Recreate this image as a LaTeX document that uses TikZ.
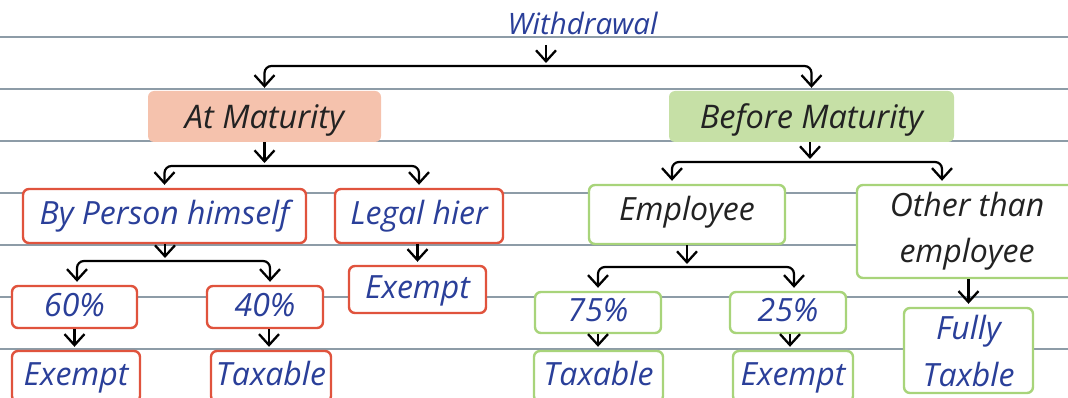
\documentclass[tikz,border=0pt]{standalone}
\usepackage{fontspec}
\setmainfont{Open Sans}
\usetikzlibrary{arrows.meta}

\definecolor{ruleline}{HTML}{8D9CA7}
\definecolor{redline}{HTML}{E0533D}
\definecolor{greenline}{HTML}{A8D47A}
\definecolor{salmon}{HTML}{F5C2AD}
\definecolor{leaf}{HTML}{C6E0A6}
\definecolor{ink}{HTML}{2A3F99}
\definecolor{dark}{HTML}{222222}

\begin{document}
\begin{tikzpicture}[x=1pt,y=-1pt,
  >={Straight Barb[length=11pt,width=20pt,line width=2.3pt]},
  hand/.style={font=\itshape\fontsize{32}{46}\selectfont},
  box/.style={hand, rounded corners=6pt, line width=2.4pt, fill=white,
    inner sep=0pt, align=center},
  oneline/.style={text height=24pt, text depth=6pt},
  redbox/.style={box, oneline, draw=redline, text=ink},
  greenbox/.style={box, oneline, draw=greenline, text=ink},
  headbox/.style={rounded corners=6pt, inner sep=0pt, text=dark,
    font=\itshape\fontsize{32.5}{36}\selectfont, text height=31pt, text depth=6pt},
  tip/.style={->, line width=2.2pt, shorten >=3pt},
  fork/.style={<->, line width=2.2pt, rounded corners=7pt,
    shorten <=3pt, shorten >=3pt},
]
\useasboundingbox (0,0) rectangle (1068,398);

% ruled paper
\foreach \y in {37,89,141,193,245,297,349}
  \draw[ruleline, line width=1.3pt] (0,\y) -- (1068,\y);

% title
\node[text=ink, inner sep=0pt, anchor=base, font=\itshape\fontsize{29.5}{36}\selectfont]
  (wd) at (582.5,35) {Withdrawal};

% first level
\node[headbox, fill=salmon, minimum width=233pt, minimum height=51pt] (am) at (264.5,116.5) {At Maturity};
\node[headbox, fill=leaf, minimum width=285pt, minimum height=51pt] (bm) at (811.5,116.5) {Before Maturity};

% second level
\node[redbox, minimum width=283pt, minimum height=54pt] (bp) at (164.5,216) {By Person himself};
\node[redbox, minimum width=168pt, minimum height=54pt] (lh) at (419,216) {Legal hier};
\node[greenbox, text=dark, minimum width=196pt, minimum height=59pt,
  text height=24pt, text depth=11pt] (em) at (687,214.5) {Employee};
\node[box, draw=greenline, text=dark, minimum width=220pt, minimum height=93pt] (ot) at (967,231.5) {Other than\\employee};

% third level
\node[redbox, minimum width=125pt, minimum height=42pt] (p60) at (74.5,307) {60\%};
\node[redbox, minimum width=116pt, minimum height=42pt] (p40) at (265,307) {40\%};
\node[redbox, minimum width=137pt, minimum height=47pt] (ex2) at (417.5,289.5) {Exempt};
\node[greenbox, minimum width=126pt, minimum height=41pt] (p75) at (598,312.5) {75\%};
\node[greenbox, minimum width=116pt, minimum height=41pt] (p25) at (788,312.5) {25\%};
\node[box, draw=greenline, text=ink, minimum width=129pt, minimum height=85pt,
  font=\itshape\fontsize{32}{47}\selectfont] (ft) at (968.5,350.5) {Fully\\Taxble};

% fourth level
\node[redbox, minimum width=128pt, minimum height=51pt] (ex1) at (76,376.5) {Exempt};
\node[redbox, minimum width=120pt, minimum height=51pt] (tx1) at (271,376.5) {Taxable};
\node[greenbox, minimum width=129pt, minimum height=51pt] (tx2) at (598.5,376.5) {Taxable};
\node[greenbox, minimum width=120pt, minimum height=51pt] (ex3) at (793,376.5) {Exempt};

% junctions of the forks
\coordinate (j0) at (546,66);
\coordinate (j1) at (264.5,166);
\coordinate (j2) at (810,162);
\coordinate (j3) at (165,261);
\coordinate (j4) at (687,267);

% connectors
\draw[tip, shorten <=10pt] (wd.base -| j0) -- (j0);
\draw[fork] (am.north) |- (j0) -| (bm.north);

\draw[tip] (am.south) -- (j1);
\draw[fork] (bp.north) |- (j1) -| (lh.north);

\draw[tip] (bm.south -| j2) -- (j2);
\draw[fork] ([xshift=-15pt]em.north) |- (j2) -| ([xshift=-25pt]ot.north);

\draw[tip] (bp.south -| j3) -- (j3);
\draw[fork] ([xshift=2.5pt]p60.north) |- (j3) -| ([xshift=5pt]p40.north);

\draw[tip] (em.south) -- (j4);
\draw[fork] (p75.north) |- (j4) -| ([xshift=6pt]p25.north);

\draw[tip] (lh.south -| ex2.north) -- (ex2.north);
\draw[tip] (p60.south) -- (p60.south |- ex1.north);
\draw[tip] ([xshift=4pt]p40.south) -- ([xshift=4pt]p40.south |- tx1.north);
\draw[tip] (p75.south) -- (p75.south |- tx2.north);
\draw[tip] ([xshift=2pt]p25.south) -- ([xshift=2pt]p25.south |- ex3.north);
\draw[tip] (ot.south -| ft.north) -- (ft.north);
\end{tikzpicture}
\end{document}
